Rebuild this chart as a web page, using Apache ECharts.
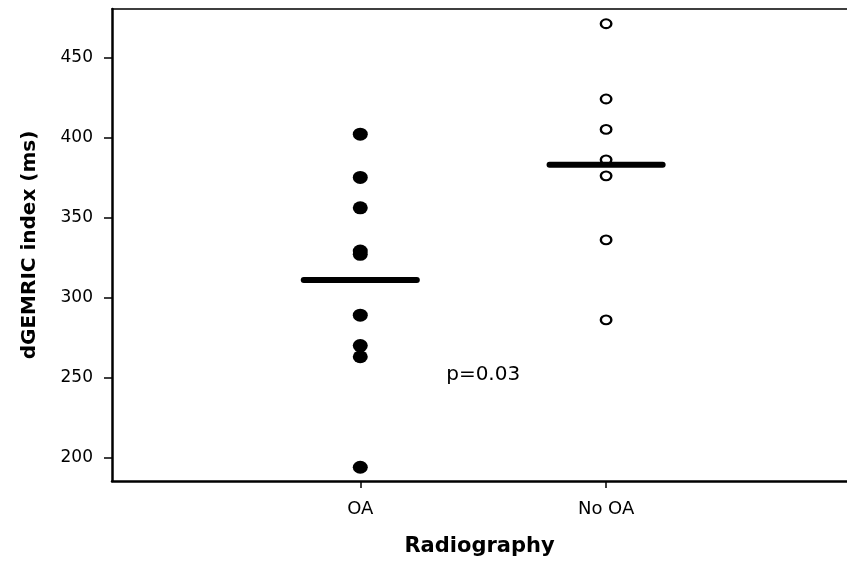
<!DOCTYPE html>
<html lang="en">
<head>
    <meta charset="UTF-8">
    <title>dGEMRIC index</title>
    <script src="https://cdn.jsdelivr.net/npm/echarts@6/dist/echarts.min.js"></script>
</head>
<body style="margin:0;background:#fff;">
<div id="chart" style="width:847px;height:562px;"></div>
<script>
    // groups sit at x = 1 and x = 2 on a value axis; the plot runs off the right edge
    const categories = ["OA", "No OA"];
    const oaValues = [402, 375, 356, 329, 327, 289, 270, 263, 194];
    const noOaValues = [471, 424, 405, 386, 376, 336, 286];
    const means = [311, 383];
    const yTicks = [200, 250, 300, 350, 400, 450];
    const pLabel = "p=0.03";

    const halfBar = 0.23;
    const font = "DejaVu Sans";

    let chart = echarts.init(document.getElementById("chart"));

    let meanSeries = means.map((m, i) => ({
        type: "line",
        data: [[i + 1 - halfBar, m], [i + 1 + halfBar, m]],
        symbol: "none",
        lineStyle: {color: "#000", width: 6, cap: "round"},
        z: 5,
        silent: true
    }));

    let option = {
        animation: false,
        backgroundColor: "#fff",
        grid: {left: 112, top: 9, right: 0, bottom: 80},
        xAxis: [
            {
                type: "value",
                min: -0.01,
                max: 2.98,
                name: "Radiography",
                nameLocation: "middle",
                nameGap: 55,
                nameTextStyle: {fontFamily: font, fontWeight: "bold", fontSize: 21, color: "#000"},
                axisLine: {onZero: false, lineStyle: {color: "#000", width: 2.5}},
                axisTick: {
                    customValues: [1, 2],
                    length: 7,
                    lineStyle: {color: "#000", width: 1.5}
                },
                axisLabel: {
                    customValues: [1, 2],
                    formatter: v => categories[Math.round(v) - 1],
                    fontFamily: font,
                    fontSize: 18,
                    color: "#000",
                    margin: 19
                },
                splitLine: {show: false}
            },
            {
                type: "value",
                position: "top",
                min: -0.01,
                max: 2.98,
                axisLine: {show: true, onZero: false, lineStyle: {color: "#000", width: 1.5}},
                axisTick: {show: false},
                axisLabel: {show: false},
                splitLine: {show: false}
            }
        ],
        yAxis: {
            type: "value",
            min: 185.4,
            max: 480.2,
            name: "dGEMRIC index (ms)",
            nameLocation: "middle",
            nameGap: 72,
            nameTextStyle: {fontFamily: font, fontWeight: "bold", fontSize: 20, color: "#000"},
            axisLine: {show: true, onZero: false, lineStyle: {color: "#000", width: 2.5}},
            axisTick: {
                show: true,
                customValues: yTicks,
                length: 8,
                lineStyle: {color: "#000", width: 1.5}
            },
            axisLabel: {
                customValues: yTicks,
                fontFamily: font,
                fontSize: 17,
                color: "#000",
                margin: 19
            },
            splitLine: {show: false}
        },
        series: [
            {
                type: "scatter",
                data: oaValues.map(v => [1, v]),
                symbol: "circle",
                symbolSize: [15, 13],
                itemStyle: {color: "#000", opacity: 1},
                z: 3
            },
            {
                type: "scatter",
                data: noOaValues.map(v => [2, v]),
                symbol: "circle",
                symbolSize: [10.5, 8.8],
                itemStyle: {color: "#fff", borderColor: "#000", borderWidth: 2.2, opacity: 1},
                z: 3,
                markPoint: {
                    symbol: "rect",
                    symbolSize: 0,
                    data: [{coord: [1.5, 252], value: pLabel}],
                    label: {
                        show: true,
                        formatter: pLabel,
                        fontFamily: font,
                        fontSize: 20,
                        color: "#000"
                    }
                }
            },
            ...meanSeries
        ]
    };
    chart.setOption(option);
</script>
</body>
</html>
